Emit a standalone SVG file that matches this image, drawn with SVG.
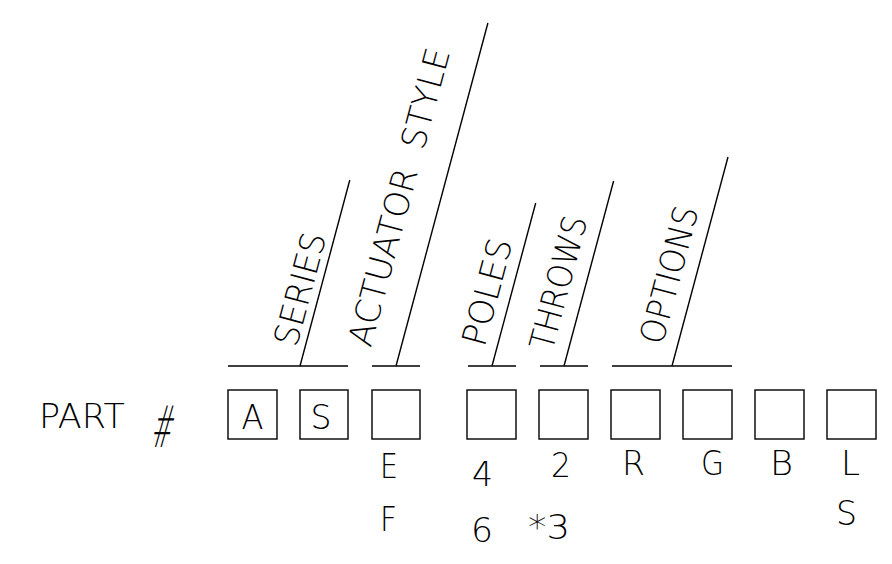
<svg xmlns="http://www.w3.org/2000/svg" width="892" height="564" viewBox="0 0 892 564">
<style>
  .t { font-family: "DejaVu Sans", "Liberation Sans", sans-serif; font-weight: 200; font-size: 34px; fill: #000; }
  .box { fill: none; stroke: #000; stroke-width: 1.4; }
  .ln { stroke: #000; stroke-width: 1.4; fill: none; }
</style>
<rect width="892" height="564" fill="#fff"/>

<g id="part-label">
  <text class="t" x="39" y="428" textLength="86" lengthAdjust="spacingAndGlyphs">PART</text>
  <text class="t" transform="translate(150,447) skewX(-10)" x="0" y="0" style="font-size:58px" textLength="21" lengthAdjust="spacingAndGlyphs">#</text>
</g>

<g id="box-1"><rect class="box" x="228" y="390" width="49" height="49"/>
  <text class="t" x="241.5" y="429" textLength="22" lengthAdjust="spacingAndGlyphs">A</text></g>
<g id="box-2"><rect class="box" x="300" y="390" width="48" height="49"/>
  <text class="t" x="310.5" y="429" textLength="21" lengthAdjust="spacingAndGlyphs">S</text></g>
<g id="box-3"><rect class="box" x="372" y="390" width="48" height="49"/>
  <text class="t" x="380" y="478" textLength="18" lengthAdjust="spacingAndGlyphs">E</text>
  <text class="t" x="380" y="531" textLength="17" lengthAdjust="spacingAndGlyphs">F</text></g>
<g id="box-4"><rect class="box" x="467" y="390" width="49" height="49"/>
  <text class="t" x="472" y="486" textLength="21" lengthAdjust="spacingAndGlyphs">4</text>
  <text class="t" x="471" y="542" textLength="22" lengthAdjust="spacingAndGlyphs">6</text></g>
<g id="box-5"><rect class="box" x="539" y="390" width="49" height="49"/>
  <text class="t" x="551" y="477" textLength="20" lengthAdjust="spacingAndGlyphs">2</text>
  <text class="t" x="528" y="539" textLength="42" lengthAdjust="spacingAndGlyphs">*3</text></g>
<g id="box-6"><rect class="box" x="611" y="390" width="49" height="49"/>
  <text class="t" x="622" y="475" textLength="23" lengthAdjust="spacingAndGlyphs">R</text></g>
<g id="box-7"><rect class="box" x="683" y="390" width="49" height="49"/>
  <text class="t" x="701" y="475" textLength="23" lengthAdjust="spacingAndGlyphs">G</text></g>
<g id="box-8"><rect class="box" x="755" y="390" width="49" height="49"/>
  <text class="t" x="770" y="475" textLength="23" lengthAdjust="spacingAndGlyphs">B</text></g>
<g id="box-9"><rect class="box" x="827" y="390" width="49" height="49"/>
  <text class="t" x="841" y="475" textLength="19" lengthAdjust="spacingAndGlyphs">L</text>
  <text class="t" x="836" y="525" textLength="21" lengthAdjust="spacingAndGlyphs">S</text></g>

<g id="label-series">
  <text class="t" transform="translate(296.5,348) rotate(-75)" x="0" y="0" textLength="115.7" lengthAdjust="spacingAndGlyphs">SERIES</text></g>
<g id="label-actuator-style">
  <text class="t" transform="translate(370.7,348.3) rotate(-75)" x="0" y="0" textLength="307" lengthAdjust="spacingAndGlyphs">ACTUATOR&#160;&#160;STYLE</text></g>
<g id="label-poles">
  <text class="t" transform="translate(484.4,347.9) rotate(-75)" x="0" y="0" textLength="109.4" lengthAdjust="spacingAndGlyphs">POLES</text></g>
<g id="label-throws">
  <text class="t" transform="translate(552.2,352) rotate(-75)" x="0" y="0" textLength="137" lengthAdjust="spacingAndGlyphs">THROWS</text></g>
<g id="label-options">
  <text class="t" transform="translate(662.3,346) rotate(-75)" x="0" y="0" textLength="141" lengthAdjust="spacingAndGlyphs">OPTIONS</text></g>

<g id="connectors">
  <line class="ln" x1="228" y1="366" x2="348" y2="366"/>
  <line class="ln" x1="300" y1="366" x2="349.8" y2="180"/>
  <line class="ln" x1="372" y1="366" x2="420" y2="366"/>
  <line class="ln" x1="396" y1="366" x2="487.9" y2="23"/>
  <line class="ln" x1="468" y1="366" x2="516" y2="366"/>
  <line class="ln" x1="492" y1="366" x2="535.7" y2="203"/>
  <line class="ln" x1="540" y1="366" x2="588" y2="366"/>
  <line class="ln" x1="564" y1="366" x2="613.6" y2="181"/>
  <line class="ln" x1="612" y1="366" x2="732" y2="366"/>
  <line class="ln" x1="672" y1="366" x2="728" y2="157"/>
</g>
</svg>
